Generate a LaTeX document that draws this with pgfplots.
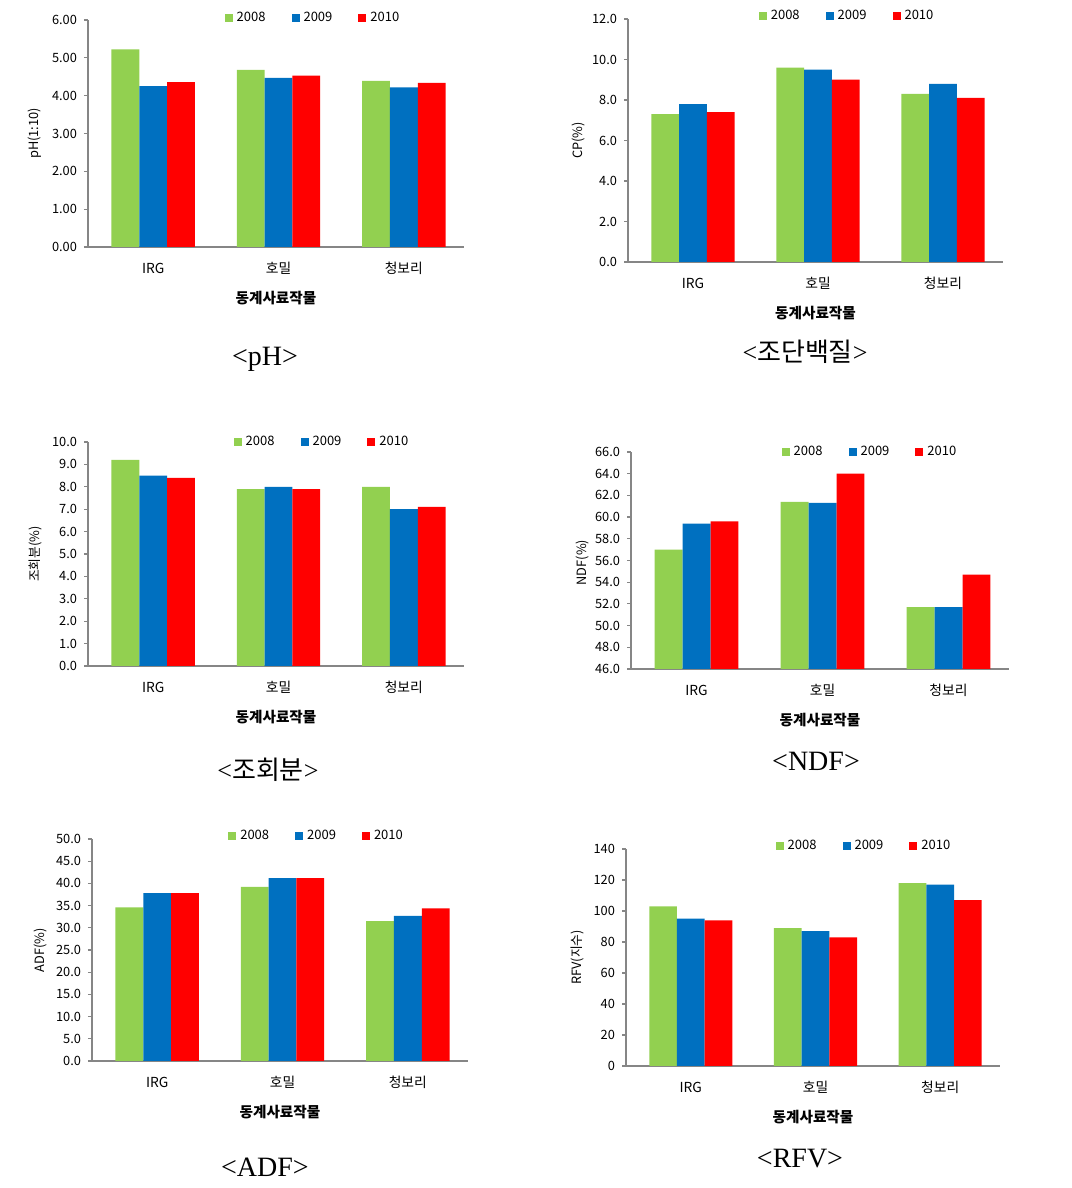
\documentclass[border=0pt]{standalone}
\usepackage{fontspec}
\setmainfont{Noto Sans CJK KR}
\newfontfamily\capfont{Liberation Serif}
\usepackage{pgfplots}
\pgfplotsset{compat=1.18}

\definecolor{g08}{RGB}{146,208,80}
\definecolor{b09}{RGB}{0,112,192}
\definecolor{r10}{RGB}{255,0,0}
\definecolor{axisgray}{RGB}{134,134,134}

\pgfplotsset{
  panel/.style={
    scale only axis, anchor=south west, ybar,
    axis x line*=bottom, axis y line*=left,
    axis line style={draw=axisgray, line width=0.6pt},
    xmin=-0.52, xmax=2.48, xtick={0,1,2}, xticklabels={IRG,호밀,청보리},
    x tick style={draw=none},
    y tick style={draw=axisgray, line width=0.6pt},
    tick align=outside, major tick length=2pt,
    bar width=0.222,
    /pgf/number format/assume math mode=true,
    yticklabel style={font=\fontsize{6.4}{7}\selectfont},
    xticklabel style={anchor=base, yshift=-11.5pt, font=\fontsize{6.9}{8}\selectfont},
    xlabel={\textbf{동계사료작물}},
    xlabel style={font=\fontsize{7.3}{9}\selectfont, anchor=base,
      at={(axis description cs:0.5,0)}, yshift=-28.5pt},
    ylabel style={font=\fontsize{6.4}{7}\selectfont, anchor=center},
    legend columns=-1,
    legend style={draw=none, fill=none, anchor=center,
      font=\fontsize{6.5}{7}\selectfont,
      /tikz/every even column/.append style={column sep=11pt}},
    legend image code/.code={\fill[##1] (0pt,-2pt) rectangle (4pt,2pt);},
  },
}

\begin{document}
\begin{tikzpicture}
\path[use as bounding box] (0,0) rectangle (535.5pt,594pt);

% pH
\begin{axis}[panel, at={(44pt,470.5pt)}, width=188pt, height=113.5pt,
  ymin=0, ymax=6, ytick={0,1,...,6},
  yticklabel style={/pgf/number format/.cd, fixed, fixed zerofill, precision=2},
  ylabel={pH(1:10)}, ylabel style={at={(axis description cs:-0.141,0.5)}},
  legend style={at={(0.601,1.009)}}]
\addplot[fill=g08, draw=none, bar shift=-0.222] coordinates {(0,5.22) (1,4.68) (2,4.39)};
\addplot[fill=b09, draw=none, bar shift=0] coordinates {(0,4.25) (1,4.47) (2,4.22)};
\addplot[fill=r10, draw=none, bar shift=0.222] coordinates {(0,4.36) (1,4.53) (2,4.34)};
\legend{2008,2009,2010}
\end{axis}

% CP
\begin{axis}[panel, at={(314pt,463pt)}, width=187.5pt, height=121.5pt,
  ymin=0, ymax=12, ytick={0,2,...,12},
  yticklabel style={/pgf/number format/.cd, fixed, fixed zerofill, precision=1},
  ylabel={CP(\%)}, ylabel style={at={(axis description cs:-0.133,0.5)}},
  legend style={at={(0.587,1.012)}}]
\addplot[fill=g08, draw=none, bar shift=-0.222] coordinates {(0,7.3) (1,9.6) (2,8.3)};
\addplot[fill=b09, draw=none, bar shift=0] coordinates {(0,7.8) (1,9.5) (2,8.8)};
\addplot[fill=r10, draw=none, bar shift=0.222] coordinates {(0,7.4) (1,9.0) (2,8.1)};
\legend{2008,2009,2010}
\end{axis}

% 조회분
\begin{axis}[panel, at={(44pt,261pt)}, width=188pt, height=112pt,
  ymin=0, ymax=10, ytick={0,1,...,10},
  yticklabel style={/pgf/number format/.cd, fixed, fixed zerofill, precision=1},
  ylabel={조회분(\%)}, ylabel style={at={(axis description cs:-0.141,0.5)}},
  legend style={at={(0.625,1.0)}}]
\addplot[fill=g08, draw=none, bar shift=-0.222] coordinates {(0,9.2) (1,7.9) (2,8.0)};
\addplot[fill=b09, draw=none, bar shift=0] coordinates {(0,8.5) (1,8.0) (2,7.0)};
\addplot[fill=r10, draw=none, bar shift=0.222] coordinates {(0,8.4) (1,7.9) (2,7.1)};
\legend{2008,2009,2010}
\end{axis}

% NDF
\begin{axis}[panel, at={(315.5pt,259.5pt)}, width=189pt, height=108.5pt,
  ymin=46, ymax=66, ytick={46,48,...,66},
  yticklabel style={/pgf/number format/.cd, fixed, fixed zerofill, precision=1},
  ylabel={NDF(\%)}, ylabel style={at={(axis description cs:-0.127,0.49)}},
  legend style={at={(0.635,1.0)}}]
\addplot[fill=g08, draw=none, bar shift=-0.222] coordinates {(0,57.0) (1,61.4) (2,51.7)};
\addplot[fill=b09, draw=none, bar shift=0] coordinates {(0,59.4) (1,61.3) (2,51.7)};
\addplot[fill=r10, draw=none, bar shift=0.222] coordinates {(0,59.6) (1,64.0) (2,54.7)};
\legend{2008,2009,2010}
\end{axis}

% ADF
\begin{axis}[panel, at={(46pt,63.5pt)}, width=188pt, height=111pt,
  ymin=0, ymax=50, ytick={0,5,...,50},
  yticklabel style={/pgf/number format/.cd, fixed, fixed zerofill, precision=1},
  ylabel={ADF(\%)}, ylabel style={at={(axis description cs:-0.138,0.5)}},
  legend style={at={(0.60,1.013)}}]
\addplot[fill=g08, draw=none, bar shift=-0.222] coordinates {(0,34.6) (1,39.2) (2,31.5)};
\addplot[fill=b09, draw=none, bar shift=0] coordinates {(0,37.8) (1,41.2) (2,32.7)};
\addplot[fill=r10, draw=none, bar shift=0.222] coordinates {(0,37.8) (1,41.2) (2,34.4)};
\legend{2008,2009,2010}
\end{axis}

% RFV
\begin{axis}[panel, at={(313pt,61pt)}, width=187pt, height=108.5pt,
  ymin=0, ymax=140, ytick={0,20,...,140},
  ylabel={RFV(지수)}, ylabel style={at={(axis description cs:-0.131,0.5)}},
  legend style={at={(0.639,1.014)}}]
\addplot[fill=g08, draw=none, bar shift=-0.222] coordinates {(0,103) (1,89) (2,118)};
\addplot[fill=b09, draw=none, bar shift=0] coordinates {(0,95) (1,87) (2,117)};
\addplot[fill=r10, draw=none, bar shift=0.222] coordinates {(0,94) (1,83) (2,107)};
\legend{2008,2009,2010}
\end{axis}

% captions
\node[anchor=base, font=\capfont\fontsize{14}{16}\selectfont] at (132.5pt,411pt) {<pH>};
\node[anchor=base, font=\fontsize{13}{15}\selectfont] at (402.5pt,413pt) {{\capfont<}조단백질{\capfont>}};
\node[anchor=base, font=\fontsize{13}{15}\selectfont] at (134pt,204pt) {{\capfont<}조회분{\capfont>}};
\node[anchor=base, font=\capfont\fontsize{14}{16}\selectfont] at (408pt,208.5pt) {<NDF>};
\node[anchor=base, font=\capfont\fontsize{14}{16}\selectfont] at (132.5pt,5.5pt) {<ADF>};
\node[anchor=base, font=\capfont\fontsize{14}{16}\selectfont] at (400pt,10pt) {<RFV>};
\end{tikzpicture}
\end{document}
